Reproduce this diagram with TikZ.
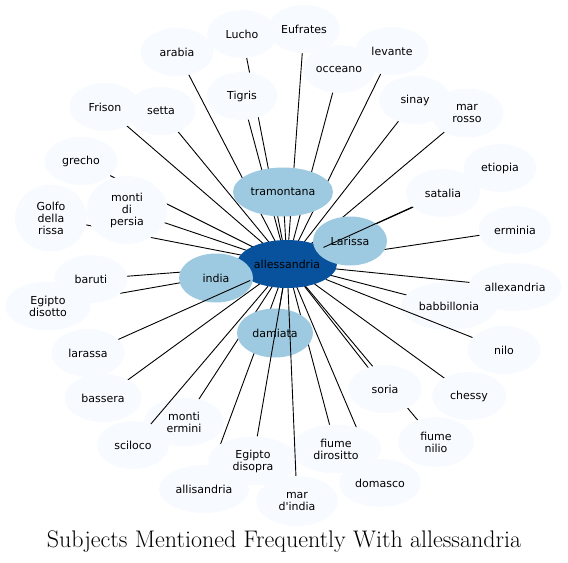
\documentclass[tikz,border=0pt]{standalone}
\usepackage{fontspec}
\usetikzlibrary{shapes.geometric,backgrounds}
\newfontfamily\dejavu{DejaVu Sans}
\definecolor{egoblue}{HTML}{08519C}
\definecolor{hubblue}{HTML}{9ECAE1}
\definecolor{leafblue}{HTML}{F7FBFF}
\tikzset{
  leaf/.style={ellipse, fill=leafblue, inner sep=0pt, minimum width=73bp,
    minimum height=48bp, align=center,
    font=\dejavu\fontsize{11bp}{12bp}\selectfont},
  hub/.style={leaf, fill=hubblue, minimum height=49bp},
  ego/.style={leaf, fill=egoblue, minimum width=100bp},
  tie/.style={line width=0.9bp},
}
\begin{document}
\begin{tikzpicture}[x=1bp,y=-1bp]
  \useasboundingbox (0,0) rectangle (568,563);
  % centre and its closest subjects
  \node[ego] (alle) at (287,264) {allessandria};
  \node[hub, minimum width=100bp] (tram) at (283,192) {tramontana};
  \node[hub, minimum width=74bp] (lari) at (350,241) {Larissa};
  \node[hub, minimum width=74bp] (indi) at (216,278) {india};
  \node[hub, minimum width=76bp] (dami) at (275,333) {damiata};
  % outer ring
  \node[leaf, minimum width=70bp] (lucho) at (242,34) {Lucho};
  \node[leaf, minimum width=72bp] (eufr) at (304,29) {Eufrates};
  \node[leaf] (arab) at (177,52) {arabia};
  \node[leaf] (leva) at (392,51) {levante};
  \node[leaf, minimum width=72bp] (occe) at (339,69) {occeano};
  \node[leaf, minimum width=71bp] (tigr) at (242,96) {Tigris};
  \node[leaf, minimum width=71bp] (fris) at (105,107) {Frison};
  \node[leaf, minimum width=69bp] (sett) at (161,111) {setta};
  \node[leaf, minimum width=72bp] (sina) at (415,100) {sinay};
  \node[leaf, minimum height=49bp] (marr) at (467,113) {mar\\rosso};
  \node[leaf] (grec) at (81,161) {grecho};
  \node[leaf] (etio) at (500,168) {etiopia};
  \node[leaf, minimum width=74bp] (sata) at (443,193) {satalia};
  \node[leaf, minimum width=81bp, minimum height=68bp] (mper) at (127,210) {monti\\di\\persia};
  \node[leaf, minimum width=72bp, minimum height=67bp] (golf) at (51,218) {Golfo\\della\\rissa};
  \node[leaf] (ermi) at (515,230) {erminia};
  \node[leaf] (baru) at (91,279) {baruti};
  \node[leaf, minimum width=86bp, minimum height=49bp] (edis) at (48,306) {Egipto\\disotto};
  \node[leaf, minimum width=93bp] (alex) at (515,287) {allexandria};
  \node[leaf, minimum width=96bp] (babb) at (449,306) {babbillonia};
  \node[leaf] (lara) at (88,353) {larassa};
  \node[leaf] (nilo) at (504,350) {nilo};
  \node[leaf, minimum width=77bp] (bass) at (103,398) {bassera};
  \node[leaf, minimum width=74bp] (sori) at (385,389) {soria};
  \node[leaf, minimum width=74bp] (ches) at (469,396) {chessy};
  \node[leaf, minimum width=80bp, minimum height=49bp] (merm) at (184,422) {monti\\ermini};
  \node[leaf, minimum width=72bp] (scil) at (133,445) {sciloco};
  \node[leaf, minimum width=76bp, minimum height=50bp] (fnil) at (436,442) {fiume\\nilio};
  \node[leaf, minimum width=90bp, minimum height=49bp] (fdir) at (336,449) {fiume\\dirositto};
  \node[leaf, minimum width=90bp, minimum height=49bp] (esop) at (253,461) {Egipto\\disopra};
  \node[leaf, minimum width=82bp] (doma) at (380,483) {domasco};
  \node[leaf, minimum width=90bp] (alli) at (204,489) {allisandria};
  \node[leaf, minimum width=82bp, minimum height=50bp] (mind) at (297,501) {mar\\d'india};
  % ties hidden under the nodes they cross
  \begin{scope}[on background layer]
    \foreach \s in {tram,dami,lucho,eufr,arab,leva,occe,tigr,fris,sett,sina,marr,
        grec,mper,golf,etio,ermi,baru,edis,alex,babb,bass,sori,ches,merm,fnil,
        fdir,doma,alli}
      \draw[tie] (alle.center) -- (\s.center);
  \end{scope}
  % ties drawn over the nodes
  \foreach \s in {sata,lara,scil,esop,mind,nilo}
    \draw[tie] (alle) -- (\s);
  \node[anchor=base, font=\fontsize{24bp}{27bp}\selectfont] (title) at (284,547)
    {Subjects Mentioned Frequently With allessandria};
\end{tikzpicture}
\end{document}
